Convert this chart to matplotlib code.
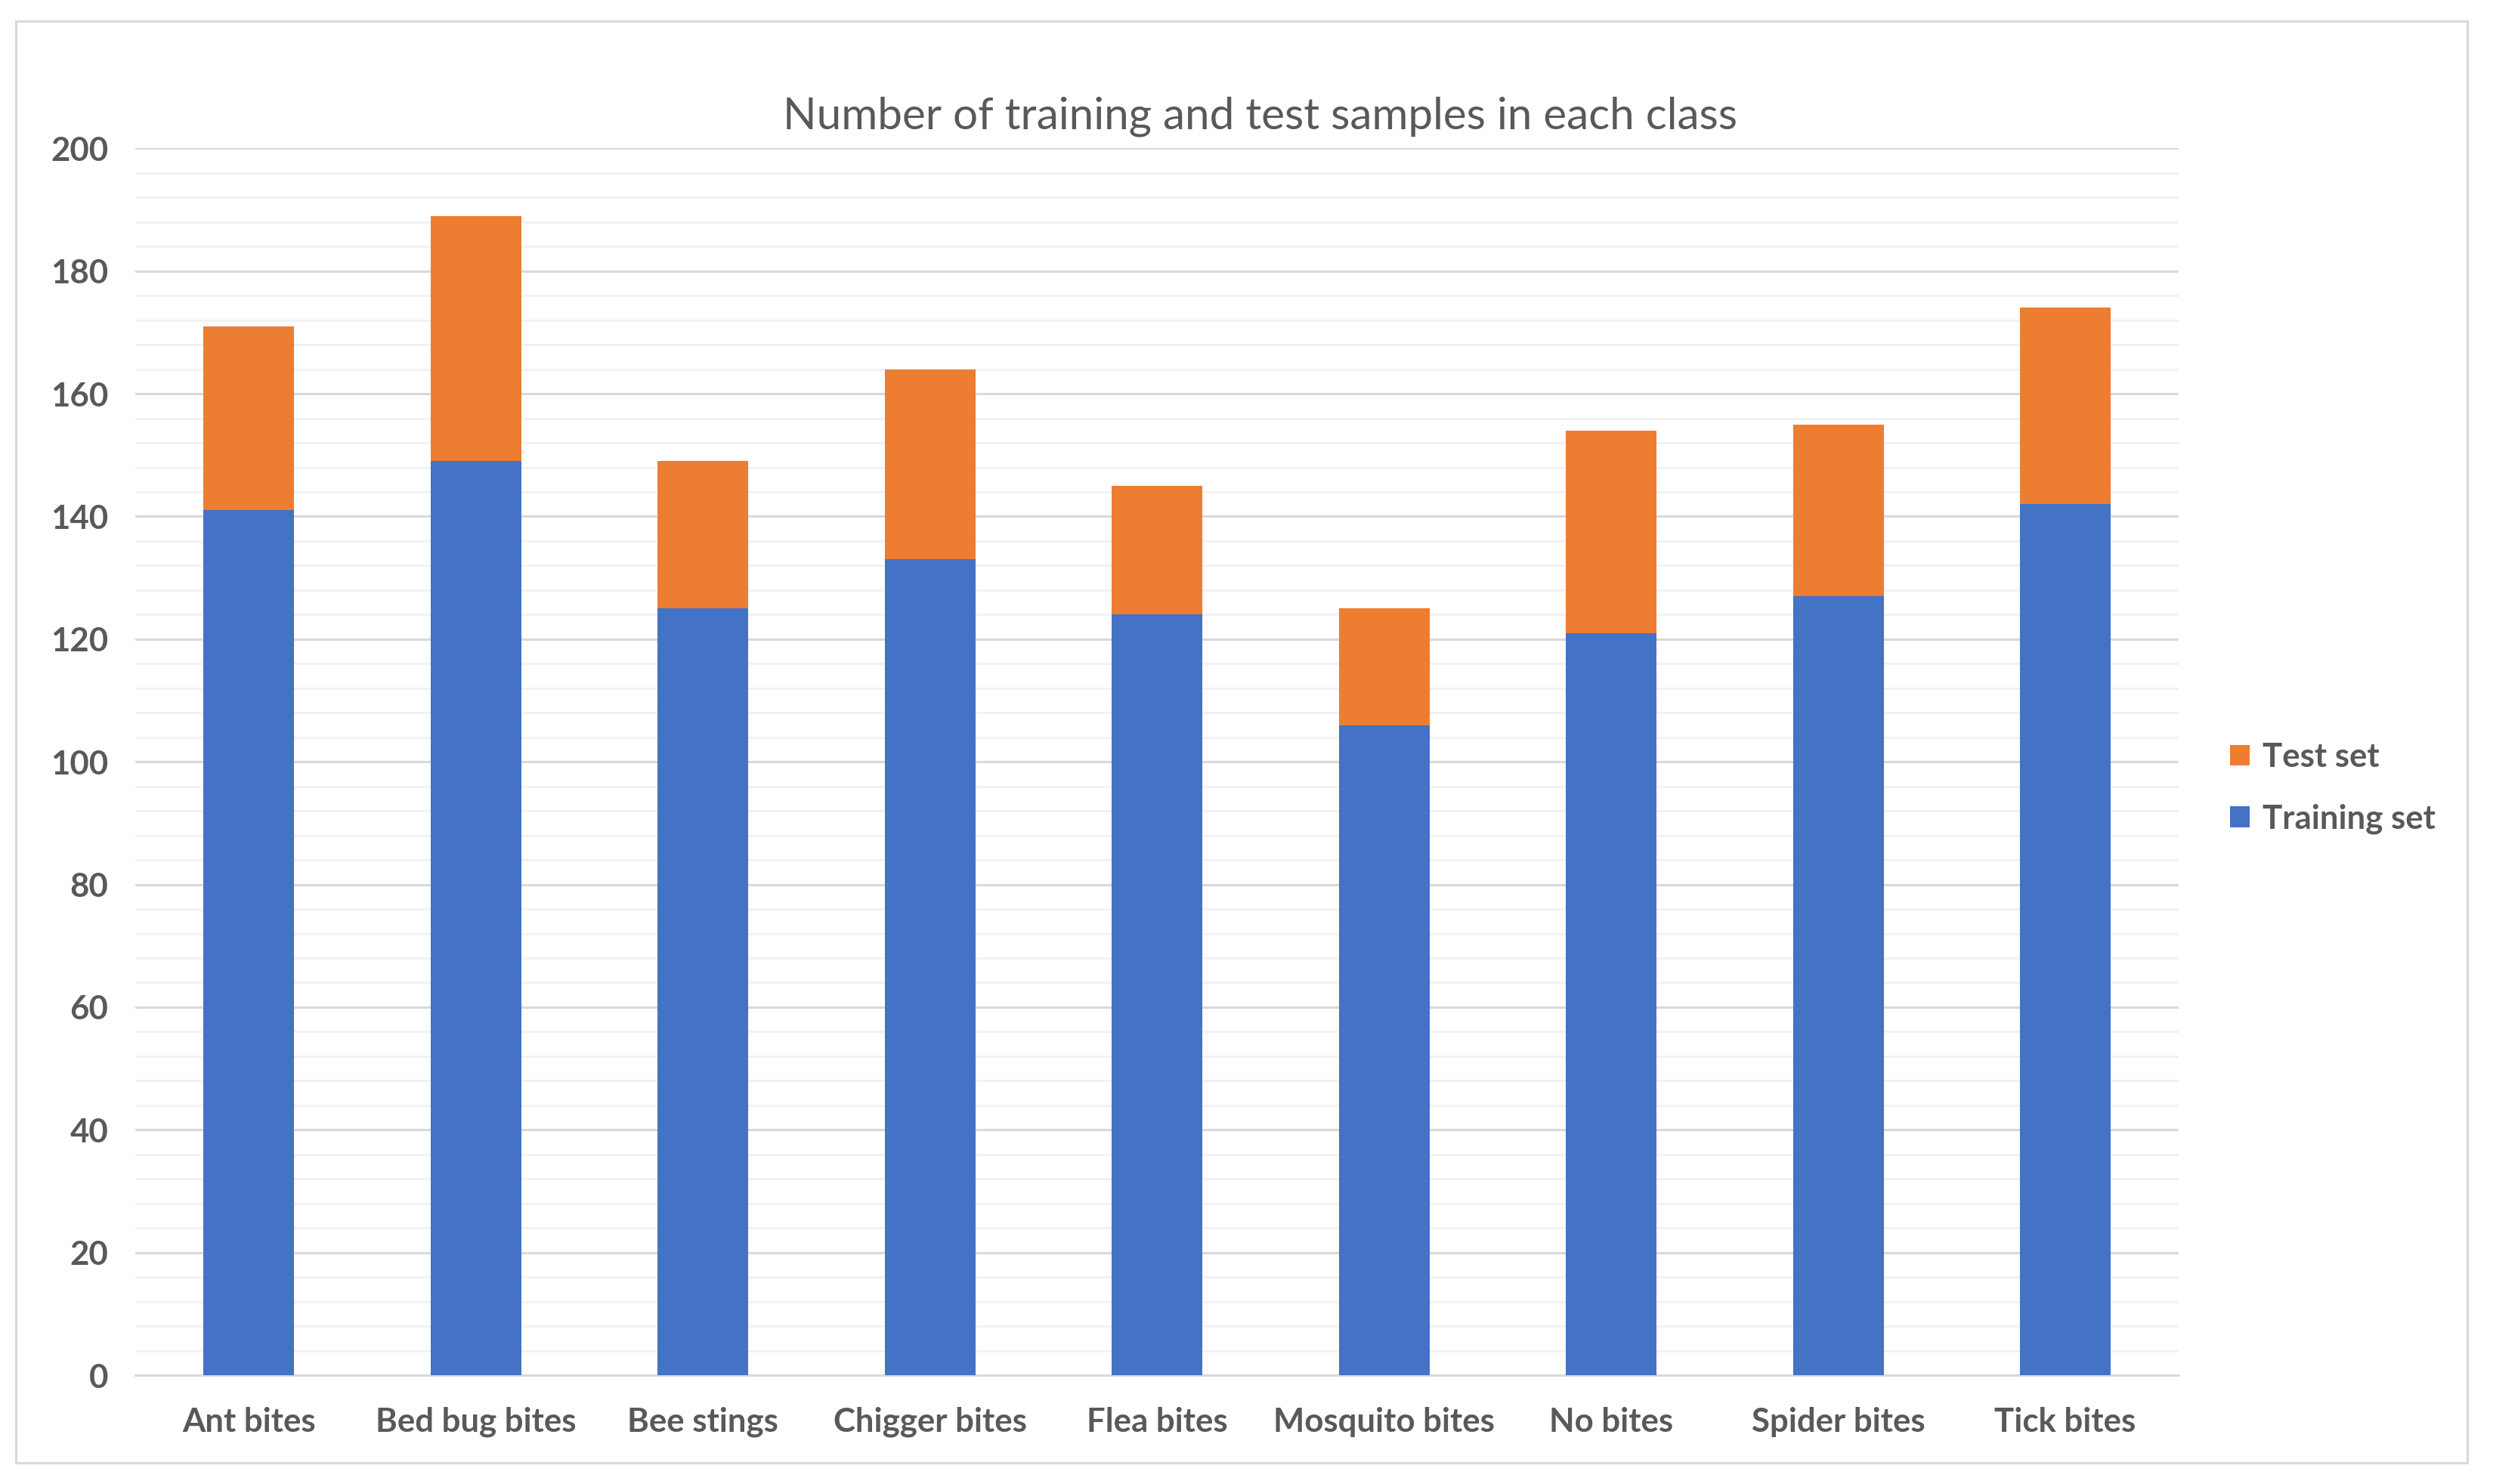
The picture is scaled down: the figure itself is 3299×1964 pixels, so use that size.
import numpy as np
import matplotlib.pyplot as plt
from matplotlib.patches import Rectangle

classes = ["Ant bites", "Bed bug bites", "Bee stings", "Chigger bites", "Flea bites",
           "Mosquito bites", "No bites", "Spider bites", "Tick bites"]
training = [141, 149, 125, 133, 124, 106, 121, 127, 142]
test = [30, 40, 24, 31, 21, 19, 33, 28, 32]

blue = "#4472c4"
orange = "#ed7d31"
txt = "#595959"

plt.rcParams['font.family'] = ['Lato', 'DejaVu Sans']

fig = plt.figure(figsize=(32.99, 19.64), dpi=100)
ax = fig.add_axes([0.0543, 0.0733, 0.8197, 0.8267])

x = np.arange(len(classes))
ax.bar(x, training, width=0.4, color=blue, label="Training set", zorder=3)
ax.bar(x, test, width=0.4, bottom=training, color=orange, label="Test set", zorder=3)

ax.set_xlim(-0.5, len(classes) - 0.5)
ax.set_ylim(0, 200)
ax.set_yticks(np.arange(0, 201, 20))
ax.set_yticks(np.arange(0, 201, 4), minor=True)
ax.grid(axis='y', which='major', color='#d9d9d9', linewidth=2.2, zorder=0)
ax.grid(axis='y', which='minor', color='#f2f2f2', linewidth=2.2, zorder=0)
ax.set_xticks(x)
ax.set_xticklabels(classes)
for s in ['top', 'right', 'left']:
    ax.spines[s].set_visible(False)
ax.spines['bottom'].set_color('#d9d9d9')
ax.spines['bottom'].set_linewidth(2.2)
ax.tick_params(axis='both', which='both', length=0, labelsize=31.5, labelcolor=txt)
ax.tick_params(axis='y', pad=26)
ax.tick_params(axis='x', pad=30)
for lab in ax.get_xticklabels() + ax.get_yticklabels():
    lab.set_fontweight('bold')

fig.text(0.5055, 0.9215, "Number of training and test samples in each class",
         ha='center', va='center', fontsize=42, color=txt)

h, l = ax.get_legend_handles_labels()
leg = fig.legend(h[::-1], l[::-1], loc='center left', bbox_to_anchor=(0.8825, 0.469),
                 frameon=False, fontsize=31.5, handlelength=0.6, handleheight=0.6,
                 handletextpad=0.4, labelspacing=0.95, labelcolor=txt)
for t in leg.get_texts():
    t.set_fontweight('bold')

fig.patches.append(Rectangle((0.0064, 0.0143), 0.9833, 0.9714, transform=fig.transFigure,
                             fill=False, edgecolor='#d9d9d9', linewidth=2.2))

fig.savefig("out.png", dpi=100)
